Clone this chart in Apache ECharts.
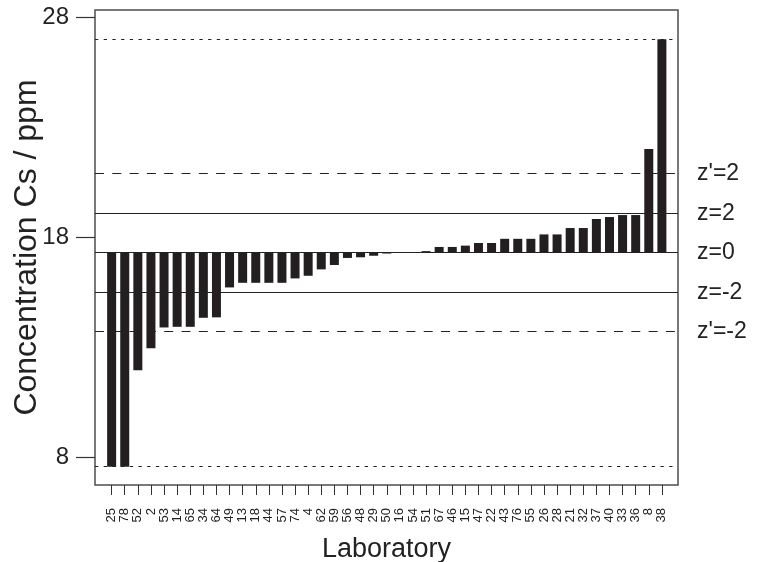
<!DOCTYPE html>
<html>
<head>
<meta charset="utf-8">
<script src="https://cdn.jsdelivr.net/npm/echarts@6/dist/echarts.min.js"></script>
<style>
  html, body { margin: 0; padding: 0; background: #fff; }
  #chart { width: 763px; height: 562px; }
</style>
</head>
<body>
<div id="chart"></div>
<script>

// laboratory codes, in plotted order
var labs = ['25','78','52','2','53','14','65','34','64','49','13','18','44','57','74','4','62','59','56','48','29',
            '50','16','54','51','67','46','15','47','22','43','76','55','26','28','21','32','37','40','33','36','8','38'];

// reported Cs concentration (ppm)
var conc = [7.56,7.56,11.95,12.94,13.89,13.92,13.92,14.33,14.35,15.71,15.92,15.92,15.92,15.92,16.12,16.24,16.53,16.73,17.05,17.08,17.15,
            17.25,17.28,17.31,17.36,17.55,17.55,17.61,17.73,17.73,17.92,17.92,17.92,18.12,18.12,18.41,18.41,18.82,18.91,19.0,19.0,22.0,26.99];

// assigned value (z=0), bars hang from it
var center = 17.29;

// reference lines and their labels
var refValues = [7.56, 13.70, 15.49, 17.29, 19.08, 20.88, 26.99];
var refLabels = ['', "z'=-2", 'z=-2', 'z=0', 'z=2', "z'=2", ''];
var refKinds  = ['dot', 'dash', 'solid', 'solid', 'solid', 'dash', 'dot'];

var yTicks = [8, 18, 28];

var font = "'Liberation Sans', Arial, sans-serif";

var chart = echarts.init(document.getElementById('chart'));

var barData = [];
for (var i = 0; i < conc.length; i++) {
  barData.push([i, conc[i]]);
}
var labIdx = labs.map(function(d, i){ return i; });

var dashes = {
  dot:   { type: [3.3, 5.4] },
  dash:  { type: [9, 8.3] },
  solid: { type: 'solid' }
};

var lineData = refValues.map(function(v, i){
  return {
    yAxis: v,
    name: refLabels[i],
    lineStyle: { color: '#222', width: 1.2, type: dashes[refKinds[i]].type },
    label: { show: refLabels[i] !== '' }
  };
});

var option = {
  animation: false,
  grid: {
    left: 95,
    right: 85,
    top: 10,
    bottom: 77,
    containLabel: false,
    outerBoundsMode: 'none',
    show: true,
    borderColor: '#4d4d4d',
    borderWidth: 1.5,
    backgroundColor: 'transparent'
  },

  xAxis: {
    type: 'value',
    min: -1.27,
    max: 43.23,
    name: 'Laboratory',
    nameLocation: 'middle',
    nameGap: 51,
    nameMoveOverlap: false,
    nameTextStyle: { fontSize: 27, color: '#222', fontFamily: font },
    axisLine: { show: false, onZero: false },
    splitLine: { show: false },
    axisTick: {
      show: true,
      inside: false,
      customValues: labIdx,
      length: 10,
      lineStyle: { color: '#333', width: 1 }
    },
    axisLabel: {
      customValues: labIdx,
      rotate: 90,
      margin: 23,
      fontSize: 13,
      color: '#222',
      fontFamily: font,
      formatter: function(v){ return labs[Math.round(v)]; }
    }
  },

  yAxis: {
    type: 'value',
    min: 6.73,
    max: 28.32,
    name: 'Concentration Cs / ppm',
    nameLocation: 'middle',
    nameGap: 52,
    nameMoveOverlap: false,
    nameTextStyle: { fontSize: 32, color: '#222', fontFamily: font },
    axisLine: { show: false, onZero: false },
    splitLine: { show: false },
    axisTick: {
      show: true,
      inside: false,
      customValues: yTicks,
      length: 19,
      lineStyle: { color: '#333', width: 1.2 }
    },
    axisLabel: {
      customValues: yTicks,
      margin: 26,
      fontSize: 24,
      color: '#222',
      fontFamily: font
    }
  },

  series: [
    {
      type: 'line',
      data: [],
      silent: true,
      z: 1,
      markLine: {
        silent: true,
        symbol: 'none',
        label: {
          position: 'end',
          distance: 19,
          fontSize: 23,
          color: '#222',
          fontFamily: font,
          formatter: '{b}'
        },
        data: lineData
      }
    },
    {
      type: 'custom',
      z: 3,
      data: barData,
      renderItem: function(params, api){
        var k = api.value(0);
        var v = api.value(1);
        var p0 = api.coord([k, center]);
        var p1 = api.coord([k, v]);
        var w = 9;
        return {
          type: 'rect',
          shape: {
            x: p0[0] - w / 2,
            y: Math.min(p0[1], p1[1]),
            width: w,
            height: Math.abs(p1[1] - p0[1])
          },
          style: { fill: '#231f20' }
        };
      }
    }
  ]
};

chart.setOption(option);

</script>
</body>
</html>
